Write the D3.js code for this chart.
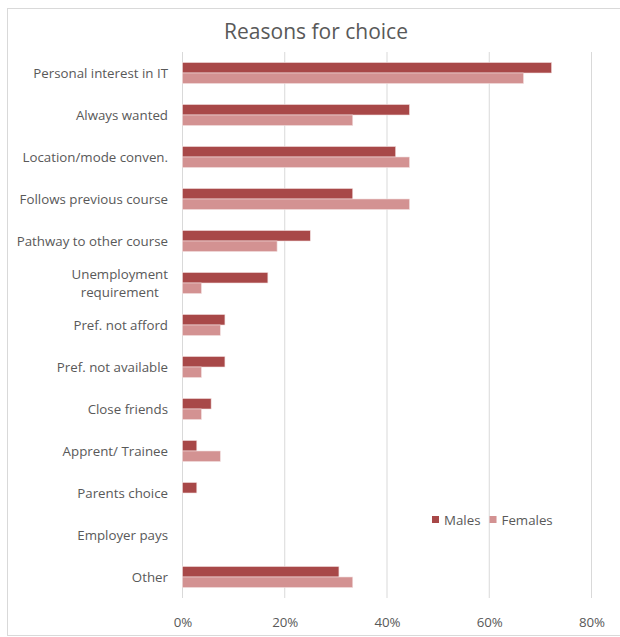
<!DOCTYPE html>
<html><head><meta charset="utf-8">
<script src="https://cdn.jsdelivr.net/npm/d3@7"></script>
<style>
html,body{margin:0;padding:0;background:#fff;}
text{font-family:"Open Sans","Lato",sans-serif;}
</style></head>
<body>
<svg id="c" width="620" height="637"></svg>
<script>
const categories = ["Personal interest in IT","Always wanted","Location/mode conven.","Follows previous course","Pathway to other course","Unemployment requirement","Pref. not afford","Pref. not available","Close friends","Apprent/ Trainee","Parents choice","Employer pays","Other"];
const males =   [72.2, 44.4, 41.7, 33.3, 25.0, 16.7, 8.3, 8.3, 5.6, 2.8, 2.8, 0, 30.6];
const females = [66.7, 33.3, 44.4, 44.4, 18.5, 3.7, 7.4, 3.7, 3.7, 7.4, 0, 0, 33.3];
const seriesNames = ["Males","Females"];
const colors = ["#a84848","#d39292"];
const xTicks = [0,20,40,60,80];

const svg = d3.select("#c");
svg.append("rect").attr("x",7.5).attr("y",8.5).attr("width",640).attr("height",627).attr("fill","#fff").attr("stroke","#d9d9d9");

const x = d3.scaleLinear().domain([0,80]).range([182.5,591.5]);
const y = d3.scaleBand().domain(categories).range([52,598]).paddingInner(0.5).paddingOuter(0.25);
const ys = d3.scaleBand().domain(seriesNames).range([0,y.bandwidth()]);

svg.append("g").selectAll("line").data(xTicks).join("line")
  .attr("x1",d=>x(d)).attr("x2",d=>x(d)).attr("y1",52).attr("y2",598)
  .attr("stroke","#d9d9d9").attr("stroke-width",1);

svg.append("text").attr("x",316).attr("y",39).attr("text-anchor","middle")
  .attr("font-size",21).attr("fill","#595959").text("Reasons for choice");

const data = categories.map((c,i)=>({c, vals:[males[i],females[i]]}));
const g = svg.append("g").selectAll("g").data(data).join("g").attr("transform",d=>`translate(0,${y(d.c)})`);
g.selectAll("rect").data(d=>d.vals.map((v,j)=>({v,s:seriesNames[j],j}))).join("rect")
  .filter(d=>d.v>0)
  .attr("x",x(0)).attr("y",d=>ys(d.s)).attr("width",d=>x(d.v)-x(0)).attr("height",ys.bandwidth())
  .attr("fill",d=>colors[d.j]).attr("stroke","#f2dede").attr("stroke-width",0.6);

const FS = 13.3;
const labG = svg.append("g");
categories.forEach(c=>{
  const cy = y(c)+y.bandwidth()/2;
  if(c==="Unemployment requirement"){
    const t1 = labG.append("text").attr("font-size",FS).attr("fill","#595959").attr("text-anchor","middle").text("Unemployment");
    const w = t1.node().getComputedTextLength();
    const cx = 168 - w/2;
    t1.attr("x",cx).attr("y",cy-9+4.5);
    labG.append("text").attr("font-size",FS).attr("fill","#595959").attr("text-anchor","middle").attr("x",cx).attr("y",cy+9+4.5).text("requirement");
  } else {
    labG.append("text").attr("font-size",FS).attr("fill","#595959").attr("text-anchor","end").attr("x",168).attr("y",cy+4.5).text(c);
  }
});

const ax = svg.append("g").attr("transform","translate(0,598)").call(d3.axisBottom(x).tickValues(xTicks).tickFormat(d=>d+"%").tickSize(0).tickPadding(20));
ax.select(".domain").remove();
ax.selectAll("text").attr("font-size",FS).attr("fill","#595959").attr("font-family","'Open Sans',sans-serif");

const leg = svg.append("g");
let lx = 432;
seriesNames.forEach((s,i)=>{
  leg.append("rect").attr("x",lx).attr("y",516).attr("width",7).attr("height",7).attr("fill",colors[i]);
  const t = leg.append("text").attr("x",lx+12).attr("y",525).attr("font-size",FS).attr("fill","#595959").text(s);
  lx += 12 + t.node().getComputedTextLength() + 9;
});
</script>
</body></html>
